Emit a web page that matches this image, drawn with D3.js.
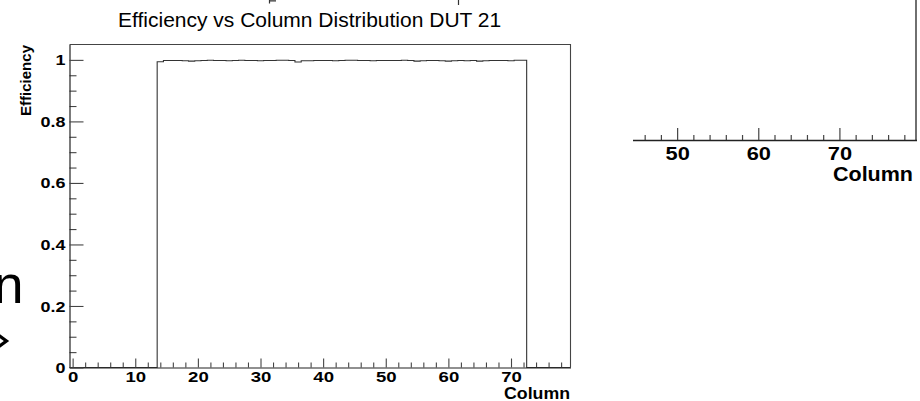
<!DOCTYPE html>
<html>
<head>
<meta charset="utf-8">
<script src="https://cdn.jsdelivr.net/npm/d3@7"></script>
<style>
  html, body { margin: 0; padding: 0; background: #fff; }
  svg { display: block; font-family: "Liberation Sans", Arial, Helvetica, sans-serif; }
</style>
</head>
<body>
<svg id="chart" width="920" height="401"></svg>
<script>
// Pixel columns of the DUT (one bin per column)
const columns = [
  0, 1, 2, 3, 4, 5, 6, 7, 8, 9,
  10, 11, 12, 13, 14, 15, 16, 17, 18, 19,
  20, 21, 22, 23, 24, 25, 26, 27, 28, 29,
  30, 31, 32, 33, 34, 35, 36, 37, 38, 39,
  40, 41, 42, 43, 44, 45, 46, 47, 48, 49,
  50, 51, 52, 53, 54, 55, 56, 57, 58, 59,
  60, 61, 62, 63, 64, 65, 66, 67, 68, 69,
  70, 71, 72, 73, 74, 75, 76, 77, 78, 79
];

// Efficiency per column
const efficiency = [
  0, 0, 0, 0, 0, 0, 0, 0, 0, 0,
  0, 0, 0, 0, 0.994, 0.998, 0.998, 0.998, 0.997, 0.996,
  0.997, 0.998, 0.999, 0.998, 0.998, 0.997, 0.998, 0.999, 0.998, 0.998,
  0.997, 0.998, 0.998, 0.999, 0.999, 0.998, 0.993, 0.997, 0.997, 0.998,
  0.998, 0.998, 0.997, 0.998, 0.999, 0.999, 0.998, 0.998, 0.997, 0.998,
  0.998, 0.998, 0.998, 0.999, 0.998, 0.996, 0.997, 0.998, 0.998, 0.997,
  0.996, 0.997, 0.998, 0.997, 0.998, 0.996, 0.997, 0.998, 0.998, 0.998,
  0.997, 0.999, 0.999, 0, 0, 0, 0, 0, 0, 0
];

// Axis ticks
const xMajorTicks = [0, 10, 20, 30, 40, 50, 60, 70];
const xMinorTicks = [2, 4, 6, 8, 12, 14, 16, 18, 22, 24, 26, 28, 32, 34, 36, 38,
                     42, 44, 46, 48, 52, 54, 56, 58, 62, 64, 66, 68, 72, 74, 76, 78];
const yMajorTicks = [0, 0.2, 0.4, 0.6, 0.8, 1];
const yMinorTicks = [0.05, 0.1, 0.15, 0.25, 0.3, 0.35, 0.45, 0.5, 0.55,
                     0.65, 0.7, 0.75, 0.85, 0.9, 0.95];
const sideMajorTicks = [50, 60, 70];
const sideMinorTicks = [46, 48, 52, 54, 56, 58, 62, 64, 66, 68, 72, 74, 76, 78];

const titleText = "Efficiency vs Column Distribution DUT 21";
const xTitle = "Column";
const yTitle = "Efficiency";

const svg = d3.select("#chart");
svg.append("rect").attr("width", 920).attr("height", 401).attr("fill", "#fff");

const LINE = "#222";
const TEXT = "#000";

// widen bold labels a little, like the Helvetica rendering of the plot
function stretch(sel, k) {
  sel.each(function () {
    const w = this.getComputedTextLength();
    this.setAttribute("textLength", (w * k).toFixed(2));
    this.setAttribute("lengthAdjust", "spacingAndGlyphs");
  });
}

// ---------- main histogram panel ----------
const x = d3.scaleLinear().domain([-0.5, 79.5]).range([69.5, 570.5]);
const y = d3.scaleLinear().domain([0, 1.05]).range([367.5, 44.5]);

const main = svg.append("g");

// frame (top and right)
main.append("path")
  .attr("d", `M${x.range()[0]},${y.range()[1]}H${x.range()[1]}V${y.range()[0]}`)
  .attr("fill", "none").attr("stroke", "#444").attr("stroke-width", 1.1);

// histogram outline
const steps = columns.map((c, i) => [c - 0.5, efficiency[i]]);
steps.push([columns[columns.length - 1] + 0.5, efficiency[efficiency.length - 1]]);
main.append("path")
  .datum(steps)
  .attr("d", d3.line().x(d => x(d[0])).y(d => y(d[1])).curve(d3.curveStepAfter))
  .attr("fill", "none").attr("stroke", "#333").attr("stroke-width", 1.1);

// x axis
const gxMinor = main.append("g").attr("transform", `translate(0,${y(0)})`)
  .call(d3.axisBottom(x).tickValues(xMinorTicks).tickSize(-5).tickSizeOuter(0).tickFormat(""));
gxMinor.select(".domain").remove();
const gx = main.append("g").attr("transform", `translate(0,${y(0)})`)
  .call(d3.axisBottom(x).tickValues(xMajorTicks).tickSize(-9).tickSizeOuter(0));
gx.selectAll(".tick text")
  .attr("y", 14.5).attr("dy", null)
  .attr("font-size", 14.5).attr("font-weight", "bold").attr("fill", TEXT).attr("font-family", null);
stretch(gx.selectAll(".tick text"), 1.28);

// y axis
const gyMinor = main.append("g").attr("transform", `translate(${x(-0.5)},0)`)
  .call(d3.axisLeft(y).tickValues(yMinorTicks).tickSize(-7).tickSizeOuter(0).tickFormat(""));
gyMinor.select(".domain").remove();
const gy = main.append("g").attr("transform", `translate(${x(-0.5)},0)`)
  .call(d3.axisLeft(y).tickValues(yMajorTicks).tickSize(-14).tickSizeOuter(0)
    .tickPadding(4).tickFormat(d3.format(".1~f")));
gy.selectAll(".tick text")
  .attr("dy", "0.36em")
  .attr("font-size", 14).attr("font-weight", "bold").attr("fill", TEXT).attr("font-family", null);
stretch(gy.selectAll(".tick text"), 1.28);

[gx, gxMinor, gy, gyMinor].forEach(g => {
  g.selectAll("line").attr("stroke", "#444").attr("stroke-width", 1.1);
  g.selectAll(".domain").attr("stroke", LINE).attr("stroke-width", 1.2);
});

// axis titles
main.append("text")
  .attr("x", 570).attr("y", 399).attr("text-anchor", "end")
  .attr("font-size", 16).attr("font-weight", "bold").attr("fill", TEXT)
  .attr("textLength", 66).attr("lengthAdjust", "spacingAndGlyphs")
  .text(xTitle);
main.append("text")
  .attr("transform", "translate(30.5,45) rotate(-90)")
  .attr("text-anchor", "end")
  .attr("font-size", 14.5).attr("font-weight", "bold").attr("fill", TEXT)
  .attr("textLength", 71).attr("lengthAdjust", "spacingAndGlyphs")
  .text(yTitle);

// title
svg.append("text")
  .attr("x", 118).attr("y", 27)
  .attr("font-size", 21).attr("fill", TEXT)
  .text(titleText);

// ---------- partial axis of the neighbouring panel ----------
const xs = d3.scaleLinear().domain([44.5, 79.5]).range([632.5, 916.5]);
const side = svg.append("g");
side.append("line")
  .attr("x1", 916).attr("x2", 916).attr("y1", 0).attr("y2", 140)
  .attr("stroke", LINE).attr("stroke-width", 1.3);
const gsMinor = side.append("g").attr("transform", "translate(0,140)")
  .call(d3.axisBottom(xs).tickValues(sideMinorTicks).tickSize(-5).tickSizeOuter(0).tickFormat(""));
gsMinor.select(".domain").remove();
const gs = side.append("g").attr("transform", "translate(0,140)")
  .call(d3.axisBottom(xs).tickValues(sideMajorTicks).tickSize(-12).tickSizeOuter(0));
gs.selectAll(".tick text")
  .attr("y", 20).attr("dy", null)
  .attr("font-size", 18.5).attr("font-weight", "bold").attr("fill", TEXT).attr("font-family", null);
stretch(gs.selectAll(".tick text"), 1.18);
[gs, gsMinor].forEach(g => {
  g.selectAll("line").attr("stroke", "#444").attr("stroke-width", 1.2);
  g.selectAll(".domain").attr("stroke", LINE).attr("stroke-width", 1.4);
});
side.append("text")
  .attr("x", 913).attr("y", 181).attr("text-anchor", "end")
  .attr("font-size", 19.5).attr("font-weight", "bold").attr("fill", TEXT)
  .attr("textLength", 80).attr("lengthAdjust", "spacingAndGlyphs")
  .text(xTitle);

// ---------- slide fragments around the plot ----------
svg.append("path")
  .attr("d", "M269.5,0V3.5M269.5,0.8H276M458.5,0V5")
  .attr("fill", "none").attr("stroke", "#333").attr("stroke-width", 1.2);
svg.append("text")
  .attr("x", -6.5).attr("y", 303)
  .attr("font-size", 54).attr("fill", TEXT)
  .text("n");
svg.append("path")
  .attr("d", "M-3,334L6.5,341L-3,348")
  .attr("fill", "none").attr("stroke", TEXT).attr("stroke-width", 3.2)
  .attr("stroke-linejoin", "miter");
</script>
</body>
</html>
